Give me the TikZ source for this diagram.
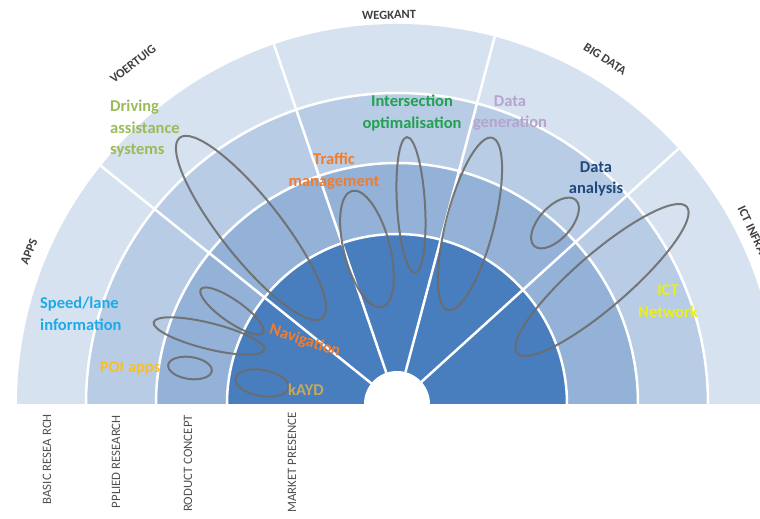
\documentclass[tikz,border=0pt]{standalone}
\usepackage{fontspec}
\setmainfont{Carlito}

\definecolor{coreblue}{RGB}{72,126,190}
\definecolor{ringB}{RGB}{148,178,215}
\definecolor{ringC}{RGB}{184,204,230}
\definecolor{ringD}{RGB}{214,226,240}
\definecolor{spotgray}{RGB}{108,108,108}
\definecolor{catgray}{RGB}{64,64,64}
\definecolor{stagegray}{RGB}{80,80,80}
\definecolor{drivgreen}{RGB}{155,187,89}
\definecolor{isecgreen}{RGB}{34,160,80}
\definecolor{genpurple}{RGB}{180,165,205}
\definecolor{trafficorange}{RGB}{237,125,49}
\definecolor{analysisblue}{RGB}{31,73,125}
\definecolor{speedblue}{RGB}{30,170,230}
\definecolor{poiyellow}{RGB}{250,190,40}
\definecolor{kaydgold}{RGB}{200,168,90}
\definecolor{ictyellow}{RGB}{235,240,20}

\begin{document}
\begin{tikzpicture}[x=1pt,y=1pt,
  divider/.style={white,line width=2.5pt},
  spot/.style={draw=spotgray,line width=2pt,draw opacity=0.9},
  cat/.style={font=\bfseries\fontsize{12.5}{14}\selectfont,text=catgray,inner sep=0pt},
  stage/.style={font=\fontsize{12.8}{14}\selectfont,text=stagegray,inner sep=0pt,rotate=90,anchor=east},
  item/.style={font=\bfseries\fontsize{16.5}{21.5}\selectfont,inner sep=0pt,align=center}]
\useasboundingbox (-397,-115) rectangle (363,404);

\fill[ringD] (-380,0) arc[start angle=180,end angle=0,radius=380] -- cycle;
\fill[ringC] (-311,0) arc[start angle=180,end angle=0,radius=311] -- cycle;
\fill[ringB] (-241,0) arc[start angle=180,end angle=0,radius=241] -- cycle;
\fill[coreblue] (-170,0) arc[start angle=180,end angle=0,radius=170] -- cycle;
\foreach \r in {170,241,311}
  \draw[divider] (-\r,0) arc[start angle=180,end angle=0,radius=\r];
\foreach \a in {42.2,75.1,108.9,141.2}
  \draw[divider] (\a:33) -- (\a:380);
\fill[white] (-33,0) arc[start angle=180,end angle=0,radius=33] -- cycle;

\draw[spot,shift={(-146,176)},rotate=-51.7] (0,0) ellipse (115 and 30);
\draw[spot,shift={(-30,155)},rotate=104.5] (0,0) ellipse (60 and 23);
\draw[spot,shift={(14,199)},rotate=93.4] (0,0) ellipse (68 and 14);
\draw[spot,shift={(73,180)},rotate=75.6] (0,0) ellipse (89 and 24);
\draw[spot,shift={(158,181)},rotate=48] (0,0) ellipse (31 and 16);
\draw[spot,shift={(205,124)},rotate=40.8] (0,0) ellipse (112 and 27);
\draw[spot,shift={(-188,68)},rotate=-14] (0,0) ellipse (57 and 13);
\draw[spot,shift={(-165,93)},rotate=-35] (0,0) ellipse (38 and 11);
\draw[spot,shift={(-207,36)},rotate=-8] (0,0) ellipse (22 and 11);
\draw[spot,shift={(-135,21)},rotate=-10] (0,0) ellipse (27 and 13);

\node[cat,rotate=68] (apps) at (-368,152) {APPS};
\node[cat,rotate=38] (voertuig) at (-264,340) {VOERTUIG};
\node[cat,rotate=1] (wegkant) at (-8,389) {WEGKANT};
\node[cat,rotate=-33] (bigdata) at (208,345) {BIG DATA};
\node[cat,rotate=-64.5,anchor=west] (ictinfra) at (344,197) {ICT INFRA};

\node[stage] (basic) at (-350,-10) {BASIC RESEA RCH};
\node[stage] (applied) at (-281,-11) {PPLIED RESEARCH};
\node[stage] (product) at (-209,-11) {RODUCT CONCEPT};
\node[stage] (market) at (-105,-8) {MARKET PRESENCE};

\node[item,text=drivgreen,anchor=west,align=left] (driving) at (-287,275) {Driving\\assistance\\systems};
\node[item,text=isecgreen] (isec) at (15,291) {Intersection\\optimalisation};
\node[item,text=genpurple] (datagen) at (113,291) {Data\\generation};
\node[item,text=trafficorange] (traffic) at (-63,233) {Traffic\\management};
\node[item,text=analysisblue] (analysis) at (199,225) {Data\\analysis};
\node[item,text=speedblue,anchor=west,align=left] (speed) at (-357,90) {Speed/lane\\information};
\node[item,text=poiyellow] (poi) at (-267,36) {POI apps};
\node[item,text=trafficorange,rotate=-18] (nav) at (-92,63) {Navigation};
\node[item,text=kaydgold] (kayd) at (-91,14) {kAYD};
\node[item,text=ictyellow] (ictnet) at (271,103) {ICT\\Network};
\end{tikzpicture}
\end{document}
